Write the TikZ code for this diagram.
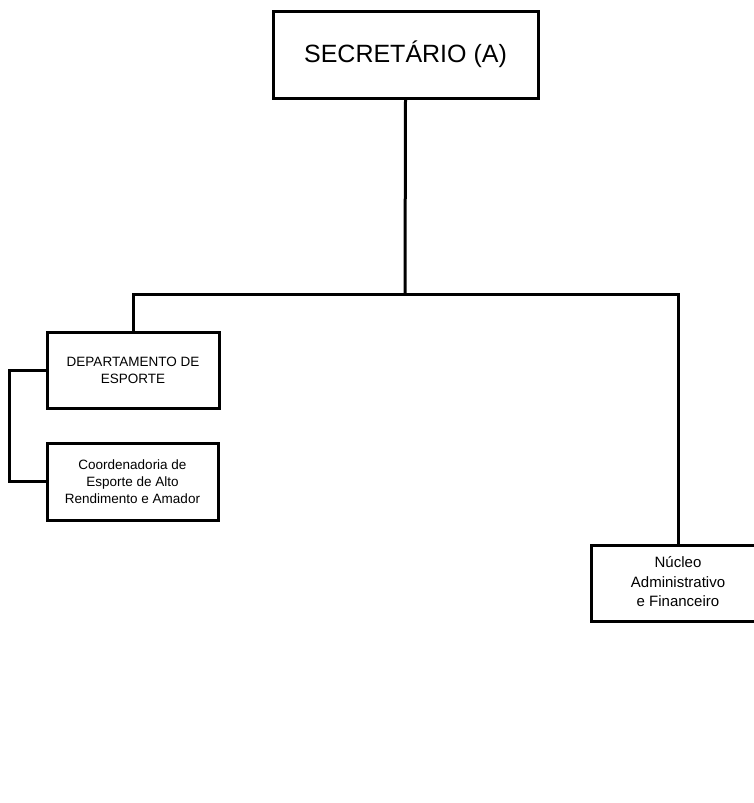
\documentclass[tikz,border=0pt]{standalone}
\usepackage{fontspec}
\setmainfont{Liberation Sans}
\begin{document}
\begin{tikzpicture}[x=1pt,y=-1pt,
  box/.style={draw=black, line width=3pt, fill=white, inner sep=0pt, align=center},
  conn/.style={draw=black, line width=3pt, line join=miter},
  small/.style={font=\fontsize{13.5}{17}\selectfont},
  mid/.style={font=\fontsize{15}{19.5}\selectfont}]
\useasboundingbox (0,0) rectangle (754,803);
\fill[white] (0,0) rectangle (754,803);
% nodes
\node[box, minimum width=265pt, minimum height=87pt, font=\fontsize{25}{30}\selectfont] (sec) at (405.5,54.5) {SECRET\'ARIO (A)};
\node[box, small, minimum width=172pt, minimum height=76pt] (dep) at (133,370) {DEPARTAMENTO DE\\ESPORTE};
\node[box, small, minimum width=171pt, minimum height=77pt] (coord) at (132.5,481.5) {Coordenadoria de\\Esporte de Alto\\Rendimento e Amador};
\node[box, minimum width=164pt, minimum height=76pt] (nuc) at (673,583) {};
\node[mid, align=center, inner sep=0pt] (nuct) at (678,582) {N\'ucleo\\Administrativo\\e Financeiro};
\coordinate (bus) at (405,294);
% connectors
\draw[conn] (sec.south) -- (bus);
\draw[conn] (dep.north) |- (bus);
\draw[conn] (bus) -| (nuct |- nuc.north);
\draw[conn] (dep.west) -- ++(-36,0) |- (coord.west);
\end{tikzpicture}
\end{document}
